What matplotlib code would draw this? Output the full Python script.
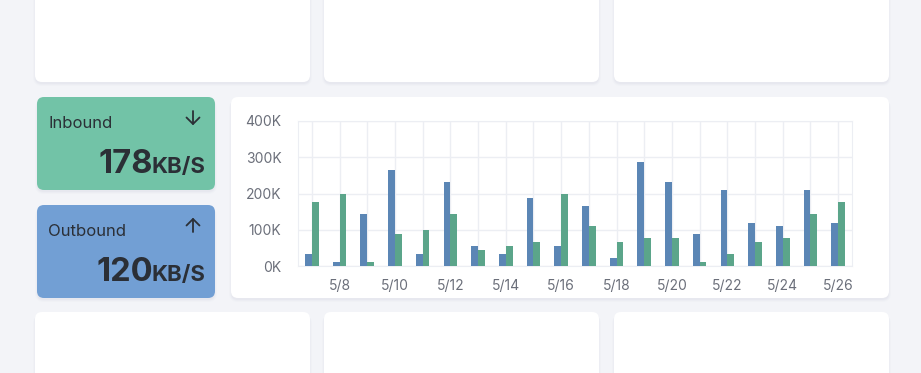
import numpy as np
import matplotlib.pyplot as plt
from matplotlib.patches import FancyBboxPatch

# daily traffic, in K
days = ['5/7', '5/8', '5/9', '5/10', '5/11', '5/12', '5/13', '5/14', '5/15', '5/16',
        '5/17', '5/18', '5/19', '5/20', '5/21', '5/22', '5/23', '5/24', '5/25', '5/26']
outbound = [32, 10, 143, 264, 32, 231, 54, 32, 187, 54,
            165, 21, 286, 231, 87, 209, 120, 109, 209, 120]
inbound = [176, 198, 10, 87, 98, 143, 43, 54, 65, 198,
           109, 65, 76, 76, 10, 32, 65, 76, 143, 176]
yticks = [0, 100, 200, 300, 400]
ytick_labels = ['0K', '100K', '200K', '300K', '400K']

inbound_rate = '178'
outbound_rate = '120'

W, H = 921, 373
plt.rcParams['font.family'] = ['Inter', 'DejaVu Sans']

fig = plt.figure(figsize=(W / 100, H / 100), dpi=100)
fig.patch.set_facecolor('#f3f4f8')

bg = fig.add_axes([0, 0, 1, 1], zorder=0)
bg.set_xlim(0, W)
bg.set_ylim(H, 0)
bg.axis('off')


def card(x, y, w, h, color, r=7):
    # soft shadow
    for i, a in enumerate([0.05, 0.04, 0.03]):
        s = FancyBboxPatch((x - i, y + 1 + i), w + 2 * i, h + 1, boxstyle='round,pad=0,rounding_size=%d' % (r + i),
                           fc='#9aa0b8', ec='none', alpha=a)
        bg.add_patch(s)
    bg.add_patch(FancyBboxPatch((x, y), w, h, boxstyle='round,pad=0,rounding_size=%d' % r,
                                fc=color, ec='none'))


def arrow(xc, y0, y1, color):
    # thin line arrow pointing from y0 to y1
    d = 1 if y1 > y0 else -1
    bg.plot([xc, xc], [y0, y1], color=color, lw=1.3, solid_capstyle='round')
    bg.plot([xc - 6.5, xc, xc + 6.5], [y1 - d * 6.5, y1, y1 - d * 6.5], color=color, lw=1.3,
            solid_capstyle='round', solid_joinstyle='round')


for cx in [35, 324, 614]:
    card(cx, -20, 275, 102, 'white')
    card(cx, 312, 275, 90, 'white')

card(37, 97, 178, 93, '#72c3a7')
card(37, 205, 178, 93, '#729fd4')
card(231, 97, 658, 201, 'white')

txt = '#2b2f36'
bg.text(48, 123, 'Inbound', fontsize=12, color=txt, va='center')
arrow(193, 111, 124, txt)
bg.text(153, 173, inbound_rate, fontsize=23.5, fontweight='bold', color=txt, va='baseline', ha='right')
bg.text(205, 173, 'KB/S', fontsize=16, fontweight='bold', color=txt, va='baseline', ha='right')

bg.text(48, 231, 'Outbound', fontsize=12, color=txt, va='center')
arrow(193, 232, 219, txt)
bg.text(153, 281, outbound_rate, fontsize=23.5, fontweight='bold', color=txt, va='baseline', ha='right')
bg.text(205, 281, 'KB/S', fontsize=16, fontweight='bold', color=txt, va='baseline', ha='right')

# bar chart
ax = fig.add_axes([298 / W, (H - 266) / H, 554 / W, 145 / H], zorder=2)
ax.set_facecolor('none')
x = np.arange(len(days))
bw = 0.245
ax.bar(x - bw / 2, outbound, bw, color='#5b86b5', zorder=3)
ax.bar(x + bw / 2, inbound, bw, color='#5ba58a', zorder=3)

ax.set_xlim(-0.5, len(days) - 0.5)
ax.set_ylim(0, 400)
ax.set_yticks(yticks)
ax.set_yticklabels(ytick_labels)
ax.set_xticks(x[1::2])
ax.set_xticklabels(days[1::2])
for xi in x:
    ax.axvline(xi, color='#eceef3', lw=1, zorder=1)
for yi in yticks:
    ax.axhline(yi, color='#eceef3', lw=1, zorder=1)
for sp in ax.spines.values():
    sp.set_color('#eceef3')
ax.tick_params(length=0, colors='#6b6f7a', labelsize=10)
ax.tick_params(axis='y', pad=12)
ax.tick_params(axis='x', pad=9)

fig.savefig('out.png', dpi=100, facecolor=fig.get_facecolor())
